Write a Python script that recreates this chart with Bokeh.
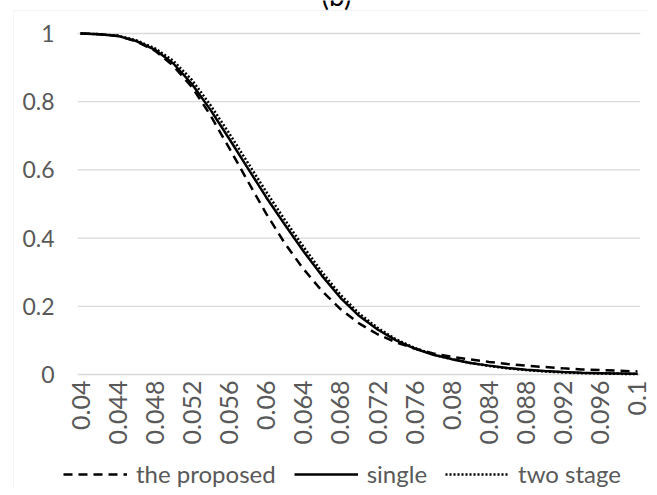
import math
from bokeh.plotting import figure
from bokeh.models import Legend, LegendItem, Range1d, Label, BoxAnnotation
from bokeh.core.properties import value
from bokeh.embed import file_html
from bokeh.resources import INLINE

# ---- data ----
x_vals = [0.040, 0.042, 0.044, 0.046, 0.048, 0.050, 0.052, 0.054, 0.056, 0.058,
          0.060, 0.062, 0.064, 0.066, 0.068, 0.070, 0.072, 0.074, 0.076, 0.078,
          0.080, 0.082, 0.084, 0.086, 0.088, 0.090, 0.092, 0.094, 0.096, 0.098, 0.100]

proposed = [1.000, 0.998, 0.993, 0.977, 0.950, 0.905, 0.843, 0.760, 0.665, 0.568,
            0.472, 0.385, 0.310, 0.245, 0.192, 0.150, 0.118, 0.094, 0.076, 0.062,
            0.052, 0.044, 0.037, 0.031, 0.026, 0.022, 0.018, 0.015, 0.013, 0.011, 0.009]

single = [1.000, 0.998, 0.993, 0.978, 0.953, 0.912, 0.852, 0.776, 0.692, 0.606,
          0.520, 0.440, 0.362, 0.290, 0.225, 0.172, 0.132, 0.100, 0.076, 0.058,
          0.045, 0.034, 0.026, 0.019, 0.014, 0.010, 0.007, 0.005, 0.004, 0.003, 0.002]

two_stage = [1.000, 0.998, 0.994, 0.980, 0.957, 0.920, 0.864, 0.790, 0.708, 0.622,
             0.536, 0.454, 0.375, 0.301, 0.234, 0.179, 0.137, 0.103, 0.078, 0.059,
             0.045, 0.034, 0.025, 0.018, 0.013, 0.009, 0.006, 0.004, 0.003, 0.002, 0.001]

x_ticks = [0.04, 0.044, 0.048, 0.052, 0.056, 0.06, 0.064, 0.068, 0.072, 0.076,
           0.08, 0.084, 0.088, 0.092, 0.096, 0.1]
x_tick_labels = ["0.04", "0.044", "0.048", "0.052", "0.056", "0.06", "0.064", "0.068",
                 "0.072", "0.076", "0.08", "0.084", "0.088", "0.092", "0.096", "0.1"]
y_ticks = [0, 0.2, 0.4, 0.6, 0.8, 1]
y_tick_labels = ["0", "0.2", "0.4", "0.6", "0.8", "1"]

series_names = ["the proposed", "single", "two stage"]
title_text = "(b)"

# ---- styling / layout constants ----
FONT = "Lato"
TXT = "#595959"
GRID = "#d9d9d9"
X_LO, X_HI = 0.031382, 0.101293      # data span of the whole canvas width
Y_LO, Y_HI = -0.331378, 1.096774     # data span of the whole canvas height
GRID_PAD = 0.0003
XLAB_Y = -0.0176                      # just under the 0 line
YLAB_X = 0.037199                     # right edge of y labels

p = figure(width=649, height=487, output_backend="svg", toolbar_location=None,
           x_range=Range1d(X_LO, X_HI), y_range=Range1d(Y_LO, Y_HI))
p.min_border_left = 0
p.min_border_right = 0
p.min_border_top = 0
p.min_border_bottom = 0
p.outline_line_color = None
p.background_fill_color = "white"
p.border_fill_color = "white"
p.xaxis.visible = False
p.yaxis.visible = False
p.xgrid.visible = False
p.ygrid.visible = False

# chart-area border (light grey, continues beyond the crop)
p.add_layout(BoxAnnotation(left=0.032783, right=0.3, top=1.06745, bottom=-2.0,
                           fill_alpha=0, line_color=GRID, line_width=1))

# horizontal gridlines
n = len(y_ticks)
p.segment(x0=[x_ticks[0] - GRID_PAD] * n, y0=y_ticks,
          x1=[x_ticks[-1] + GRID_PAD] * n, y1=y_ticks,
          line_color=GRID, line_width=1.3)

# y tick labels
p.text(x=[YLAB_X] * n, y=y_ticks, text=y_tick_labels, text_align="right",
       text_baseline="middle", text_font=value(FONT), text_font_size=value("23px"),
       text_color=TXT)

# x tick labels (rotated, reading upward)
m = len(x_ticks)
p.text(x=x_ticks, y=[XLAB_Y] * m, text=x_tick_labels, angle=math.pi / 2,
       text_align="right", text_baseline="middle", text_font=value(FONT),
       text_font_size=value("25px"), text_color=TXT)

r1 = p.line(x_vals, proposed, line_color="black", line_width=2.5, line_dash="9 6")
r2 = p.line(x_vals, single, line_color="black", line_width=2.5)
r3 = p.line(x_vals, two_stage, line_color="black", line_width=2.5, line_dash="2 2")

legend = Legend(items=[LegendItem(label=series_names[0], renderers=[r1]),
                       LegendItem(label=series_names[1], renderers=[r2]),
                       LegendItem(label=series_names[2], renderers=[r3])],
                orientation="horizontal", location=(63, -1))
legend.label_text_font = FONT
legend.label_text_font_size = "24px"
legend.label_text_color = TXT
legend.glyph_width = 64
legend.label_standoff = 9
legend.spacing = 18
legend.padding = 0
legend.margin = 0
legend.border_line_color = None
legend.background_fill_alpha = 0
p.add_layout(legend, "center")

title = Label(x=0.067576, y=1.0616, text=title_text, text_align="center",
              text_baseline="bottom", text_font=FONT, text_font_size="28px",
              text_color="black")
p.add_layout(title)

open("out.html", "w").write(file_html(p, INLINE))
